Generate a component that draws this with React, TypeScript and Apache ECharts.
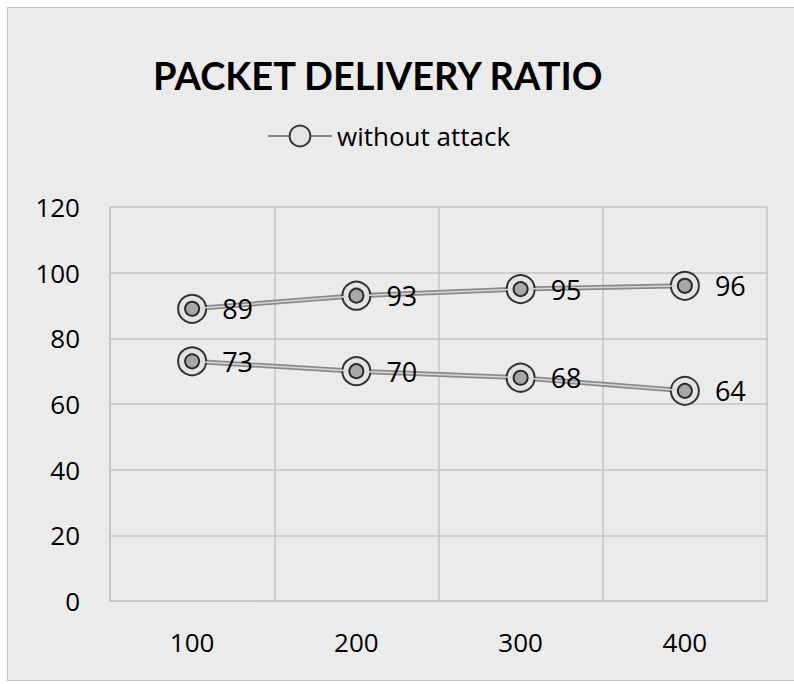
import React, { useEffect, useRef } from "react";
import * as echarts from "echarts";

const categories = ["100", "200", "300", "400"];
const withoutAttack = [89, 93, 95, 96];
const secondSeries = [73, 70, 68, 64];
const yTicks = { min: 0, max: 120, interval: 20 };

const FONT = "Open Sans";

function outerSeries(name: string, data: number[]) {
  return {
    name,
    type: "line",
    data,
    symbol: "circle",
    symbolSize: 28,
    lineStyle: { color: "#8a8a8a", width: 5 },
    itemStyle: { color: "#e4e4e4", borderColor: "#333", borderWidth: 2 },
    label: { show: false },
    z: 2,
  };
}

function innerSeries(name: string, data: number[]) {
  return {
    name,
    type: "line",
    data,
    symbol: "circle",
    symbolSize: 14,
    lineStyle: { color: "#d6d6d6", width: 1.5 },
    itemStyle: { color: "#a8a8a8", borderColor: "#2a2a2a", borderWidth: 2 },
    label: {
      show: true,
      position: "right",
      distance: 22,
      fontFamily: FONT,
      fontSize: 27,
      color: "#000",
    },
    z: 3,
  };
}

export default function App() {
  const ref = useRef<HTMLDivElement>(null);
  useEffect(() => {
    if (!ref.current) return;
    const chart = echarts.init(ref.current, null, { renderer: "svg" });
    chart.setOption({
      animation: false,
      backgroundColor: "transparent",
      title: {
        text: "PACKET DELIVERY RATIO",
        left: 148,
        top: 51,
        textStyle: { fontFamily: "Lato", fontWeight: "bold", fontSize: 38, color: "#000" },
      },
      legend: {
        data: ["without attack"],
        left: 262,
        top: 118,
        itemWidth: 64,
        itemHeight: 26,
        itemGap: 8,
        textStyle: { fontFamily: FONT, fontSize: 26, color: "#000" },
      },
      grid: { left: 110, right: 27, top: 207, bottom: 83 },
      xAxis: {
        type: "category",
        data: categories,
        boundaryGap: true,
        axisLine: { show: true, lineStyle: { color: "#c4c4c4", width: 1.5 } },
        axisTick: { show: false },
        splitLine: { show: true, lineStyle: { color: "#c4c4c4", width: 1.5 } },
        axisLabel: { fontFamily: FONT, fontSize: 26, color: "#000", margin: 28 },
      },
      yAxis: {
        type: "value",
        min: yTicks.min,
        max: yTicks.max,
        interval: yTicks.interval,
        axisLine: { show: true, lineStyle: { color: "#c4c4c4", width: 1.5 } },
        axisTick: { show: false },
        splitLine: { show: true, lineStyle: { color: "#c4c4c4", width: 1.5 } },
        axisLabel: { fontFamily: FONT, fontSize: 26, color: "#000", margin: 30 },
      },
      series: [
        outerSeries("without attack", withoutAttack),
        innerSeries("without attack inner", withoutAttack),
        outerSeries("with attack", secondSeries),
        innerSeries("with attack inner", secondSeries),
      ],
    });
    return () => chart.dispose();
  }, []);

  return (
    <div style={{ position: "fixed", left: 0, top: 0, width: 794, height: 684, background: "#fff" }}>
      <div
        style={{
          position: "absolute",
          left: 7,
          top: 7,
          width: 800,
          height: 674,
          background: "#ebebeb",
          border: "1.5px solid #c4c4c4",
          boxSizing: "border-box",
        }}
      />
      <div ref={ref} style={{ position: "absolute", left: 0, top: 0, width: 794, height: 684 }} />
    </div>
  );
}
